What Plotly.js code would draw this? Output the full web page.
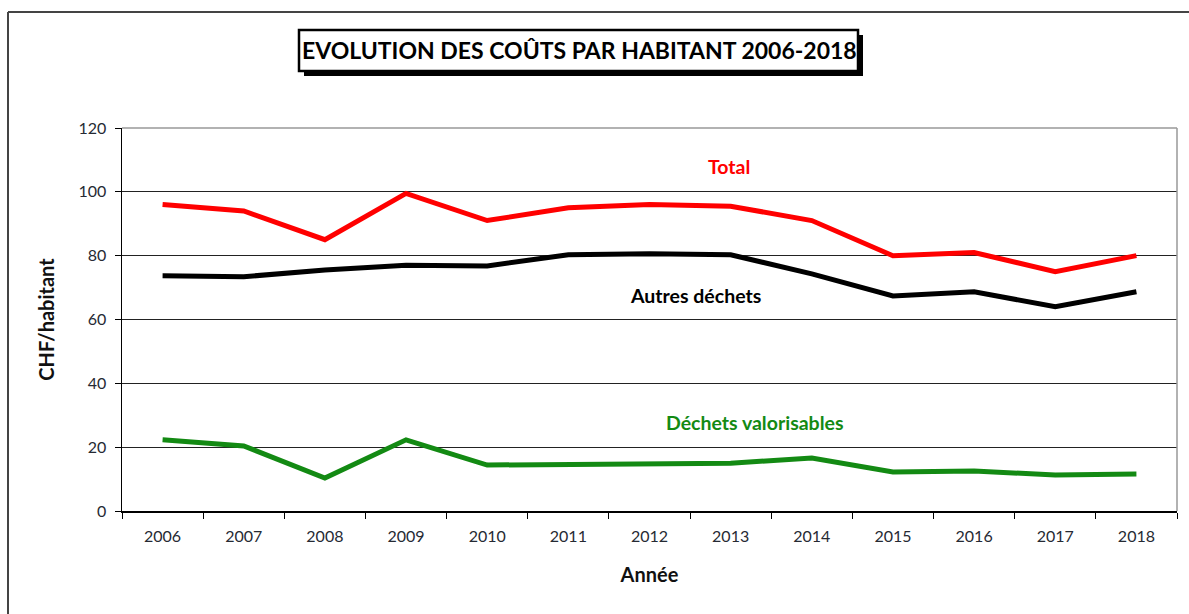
<!DOCTYPE html>
<html>
<head>
<meta charset="utf-8">
<script src="https://cdn.plot.ly/plotly-3.0.1.min.js"></script>
<style>html,body{margin:0;padding:0;background:#fff;}#chart{width:1189px;height:614px;}</style>
</head>
<body>
<div id="chart"></div>
<script>
const years = ['2006','2007','2008','2009','2010','2011','2012','2013','2014','2015','2016','2017','2018'];
const total = [96, 94, 85, 99.5, 91, 95, 96, 95.5, 91, 80, 81, 75, 80];
const autresDechets = [73.7, 73.4, 75.5, 77, 76.8, 80.3, 80.6, 80.3, 74.3, 67.4, 68.7, 64, 68.7];
const dechetsValorisables = [22.3, 20.4, 10.3, 22.3, 14.4, 14.7, 15, 15, 16.6, 12.2, 12.5, 11.3, 11.6];
const seriesNames = ['Total', 'Autres déchets', 'Déchets valorisables'];
const yTicks = [0, 20, 40, 60, 80, 100, 120];

const W = 1189, H = 614;
const M = {l: 122, r: 12, t: 128, b: 103};
const PW = W - M.l - M.r, PH = H - M.t - M.b;
const px = x => (x - M.l) / PW;
const py = y => (H - M.b - y) / PH;

const FONT = 'Lato, "Open Sans", sans-serif';

const traces = [
  {x: years, y: total, name: seriesNames[0], line: {color: '#ff0000', width: 5}},
  {x: years, y: autresDechets, name: seriesNames[1], line: {color: '#000000', width: 5}},
  {x: years, y: dechetsValorisables, name: seriesNames[2], line: {color: '#138a13', width: 5}}
].map(t => Object.assign({type: 'scatter', mode: 'lines', hoverinfo: 'skip'}, t));

const layout = {
  width: W, height: H,
  margin: M,
  paper_bgcolor: '#fff', plot_bgcolor: '#fff',
  showlegend: false,
  font: {family: FONT, color: '#222'},
  xaxis: {
    type: 'category', range: [-0.5, 12.5],
    tickson: 'boundaries', ticks: 'outside', ticklen: 6, tickcolor: '#000', tickwidth: 1,
    showline: true, linecolor: '#000', linewidth: 1.5,
    showgrid: false, zeroline: false,
    tickfont: {size: 16, color: '#262a33', family: FONT},
    ticklabelstandoff: 10,
    title: {text: '<b>Année</b>', font: {size: 20, color: '#111', family: FONT}, standoff: 24}
  },
  yaxis: {
    range: [0, 120], tickvals: yTicks,
    ticks: 'outside', ticklen: 6, tickcolor: '#000', tickwidth: 1,
    showline: true, linecolor: '#000', linewidth: 1.5,
    showgrid: true, gridcolor: '#222', gridwidth: 1, zeroline: false,
    tickfont: {size: 16, color: '#262a33', family: FONT},
    ticklabelstandoff: 5,
    title: {text: '<b>CHF/habitant</b>', font: {size: 20, color: '#111', family: FONT}, standoff: 18}
  },
  shapes: [
    {type: 'line', xref: 'paper', yref: 'paper', x0: 0, x1: 1, y0: 1, y1: 1, line: {color: '#999', width: 1.5}, layer: 'above'},
    {type: 'line', xref: 'paper', yref: 'paper', x0: 1, x1: 1, y0: 0, y1: 1, line: {color: '#999', width: 1.5}, layer: 'above'},
    {type: 'line', xref: 'paper', yref: 'paper', x0: px(8), x1: px(8), y0: py(12), y1: py(620), line: {color: '#444', width: 2}},
    {type: 'line', xref: 'paper', yref: 'paper', x0: px(8), x1: px(1195), y0: py(12), y1: py(12), line: {color: '#444', width: 2}},
    {type: 'rect', xref: 'paper', yref: 'paper', x0: px(304), x1: px(863), y0: py(35), y1: py(76), fillcolor: '#000', line: {width: 0}},
    {type: 'rect', xref: 'paper', yref: 'paper', x0: px(299), x1: px(858), y0: py(30), y1: py(71), fillcolor: '#fff', line: {color: '#000', width: 2.5}}
  ],
  annotations: [
    {xref: 'paper', yref: 'paper', x: px(579), y: py(50), text: '<b>EVOLUTION DES COÛTS PAR HABITANT 2006-2018</b>', showarrow: false, font: {size: 23, color: '#000', family: FONT}, xanchor: 'center', yanchor: 'middle'},
    {xref: 'x', yref: 'y', x: 6.98, y: 107.8, text: '<b>' + seriesNames[0] + '</b>', showarrow: false, font: {size: 19.5, color: '#ff0000', family: FONT}},
    {xref: 'x', yref: 'y', x: 6.57, y: 67.4, text: '<b>' + seriesNames[1] + '</b>', showarrow: false, font: {size: 19.5, color: '#000', family: FONT}},
    {xref: 'x', yref: 'y', x: 7.3, y: 27.6, text: '<b>' + seriesNames[2] + '</b>', showarrow: false, font: {size: 19.5, color: '#138a13', family: FONT}}
  ]
};

Plotly.newPlot('chart', traces, layout, {staticPlot: true, displayModeBar: false});
</script>
</body>
</html>
